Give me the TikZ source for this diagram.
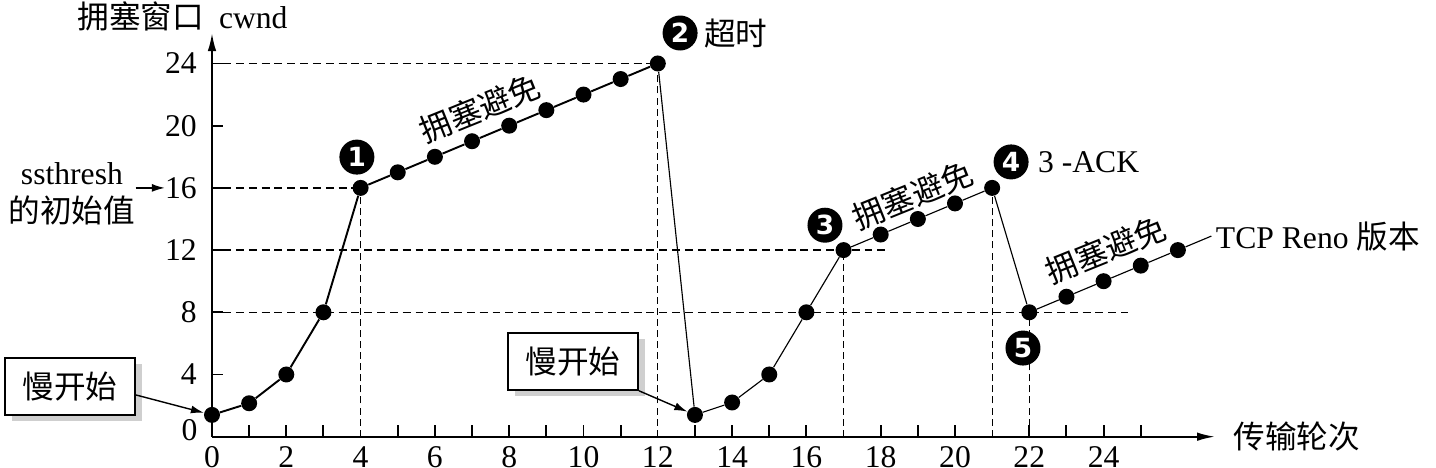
\documentclass[tikz,border=0pt]{standalone}
\usepackage{fontspec}
\setmainfont{Liberation Serif}
\newfontfamily\cjk{Noto Sans CJK SC}
\newfontfamily\numfont{DejaVu Sans}
\usepackage{tikz}
\usetikzlibrary{positioning,calc,arrows.meta,shadows}

\begin{document}
\begin{tikzpicture}[x=0.743cm, y=0.311cm,
  font=\fontsize{18}{21.6}\selectfont,
  axisln/.style={line width=1.1pt},
  fatcurve/.style={line width=1.1pt},
  thincurve/.style={line width=0.65pt},
  dashln/.style={line width=0.7pt, dash pattern=on 4.5pt off 2.8pt},
  vdash/.style={line width=0.6pt, dash pattern=on 4pt off 2.3pt},
  dot/.style={circle, fill=black, inner sep=0pt, minimum size=0.32cm},
  numc/.style={circle, fill=black, text=white, inner sep=0pt, minimum size=0.7cm,
               font=\numfont\bfseries\fontsize{15}{15}\selectfont},
  slowbox/.style={draw, line width=1pt, fill=white, minimum width=2.6cm, minimum height=1.14cm,
                  drop shadow={shadow xshift=0.13cm, shadow yshift=-0.13cm, fill=gray!75}},
  arr/.style={line width=0.8pt, -{Latex[length=0.26cm, width=0.16cm]}}]

\useasboundingbox (-4.24cm,-0.626cm) rectangle (24.48cm,8.734cm);

% Axes
\coordinate (O) at (0,0);
\coordinate (xend) at (27,0);
\coordinate (yend) at (0,25.96);
\draw[axisln, -{Latex[length=0.36cm, width=0.17cm]}] (O) -- (xend);
\draw[axisln, -{Latex[length=0.36cm, width=0.17cm]}] (O) -- (yend);

\node[right=0.33cm of xend, inner sep=1pt] (xlab) {\cjk 传输轮次};
\node[anchor=west, inner sep=0pt] (ylab) at (-3.63,27.0) {{\cjk 拥塞窗口}\hspace{0.3cm}cwnd};

% Ticks and tick labels
\foreach \i in {1,2,3,5,6,7,8,9,10,11,13,14,15,16,18,19,20,22,23,24,25}
  \draw[axisln] (\i,0) -- ++(0,0.24cm);
\foreach \i in {0,2,...,24}
  \node[inner sep=0pt] (x\i) at (\i,-1.31) {\i};
\foreach \v in {4,8,...,24} {
  \draw[axisln] (0,\v) -- ++(0.22cm,0);
  \node[anchor=east, inner sep=0pt] (l\v) at (-0.40,\v) {\v};
}
\node[anchor=east, inner sep=0pt] (l0) at (-0.38,0.43) {0};

% Threshold label
\node[align=center, inner sep=0pt] (ssth) at (-3.77,15.59) {ssthresh\\{\cjk 的初始值}};
\draw[arr] (ssth.east |- l16.west) -- (l16.west);

% Data points
\foreach \i/\v in {0/1.4, 1/2.15, 2/4, 3/8, 4/16, 5/17, 6/18, 7/19, 8/20, 9/21, 10/22, 11/23, 12/24,
                   13/1.4, 14/2.2, 15/4, 16/8, 17/12, 18/13, 19/14, 20/15, 21/16,
                   22/8, 23/9, 24/10, 25/11, 26/12}
  \coordinate (c\i) at (\i,\v);

% Dashed guide lines
\draw[dashln] (0.3,24) -- (c12);
\draw[dashln] (0.3,16) -- (c4);
\draw[dashln] (0.3,12) -- (18.17,12);
\draw[dashln] (0.3,8) -- (24.66,8);
\draw[vdash] (4,0) -- (c4);
\draw[vdash] (12,0) -- (c12);
\draw[vdash] (17,0) -- (c17);
\draw[vdash] (21,0) -- (c21);
\draw[vdash] (22,0) -- (c22);

% Dots
\foreach \i in {0,...,26}
  \node[dot] (p\i) at (c\i) {};

% Window curve
\draw[fatcurve] (p0) -- (p1) -- (p2) -- (p3) -- (p4) -- (p5) -- (p6) -- (p7) -- (p8)
  -- (p9) -- (p10) -- (p11) -- (p12);
\draw[thincurve] (p12) -- (p13) -- (p14) -- (p15) -- (p16) -- (p17) -- (p18) -- (p19)
  -- (p20) -- (p21) -- (p22) -- (p23) -- (p24) -- (p25) -- (p26);
\coordinate (rend) at ($(c22)!1.225!(c26)$);
\draw[thincurve] (p26) -- (rend);
\node[right=0.05cm of rend, inner sep=1pt] (reno) {TCP Reno {\cjk 版本}};

% Phase labels
\node[rotate=22] (ca1) at (7.21,21.1) {\cjk 拥塞避免};
\node[rotate=22] (ca2) at (18.86,15.51) {\cjk 拥塞避免};
\node[rotate=22] (ca3) at (24.06,12.03) {\cjk 拥塞避免};

% Numbered events
\node[numc] (n1) at ($(c4)+(-0.10,1.98)$) {1};
\node[numc] (n2) at ($(c12)+(0.60,1.96)$) {2};
\node[numc] (n3) at ($(c17)+(-0.50,1.60)$) {3};
\node[numc] (n4) at ($(c21)+(0.51,1.67)$) {4};
\node[numc] (n5) at ($(c22)+(-0.17,-2.30)$) {5};
\node[right=0.08cm of n2, inner sep=1pt] (tout) {\cjk 超时};
\node[right=0.14cm of n4, inner sep=1pt] (tack) {3 -ACK};

% Slow start boxes
\node[slowbox] (box1) at (-3.82,3.23) {\cjk 慢开始};
\node[slowbox] (box2) at (9.72,4.84) {\cjk 慢开始};
\draw[arr] ([yshift=-0.17cm]box1.east) -- (p0);
\draw[arr] (box2.south east) -- (p13);

\end{tikzpicture}
\end{document}
